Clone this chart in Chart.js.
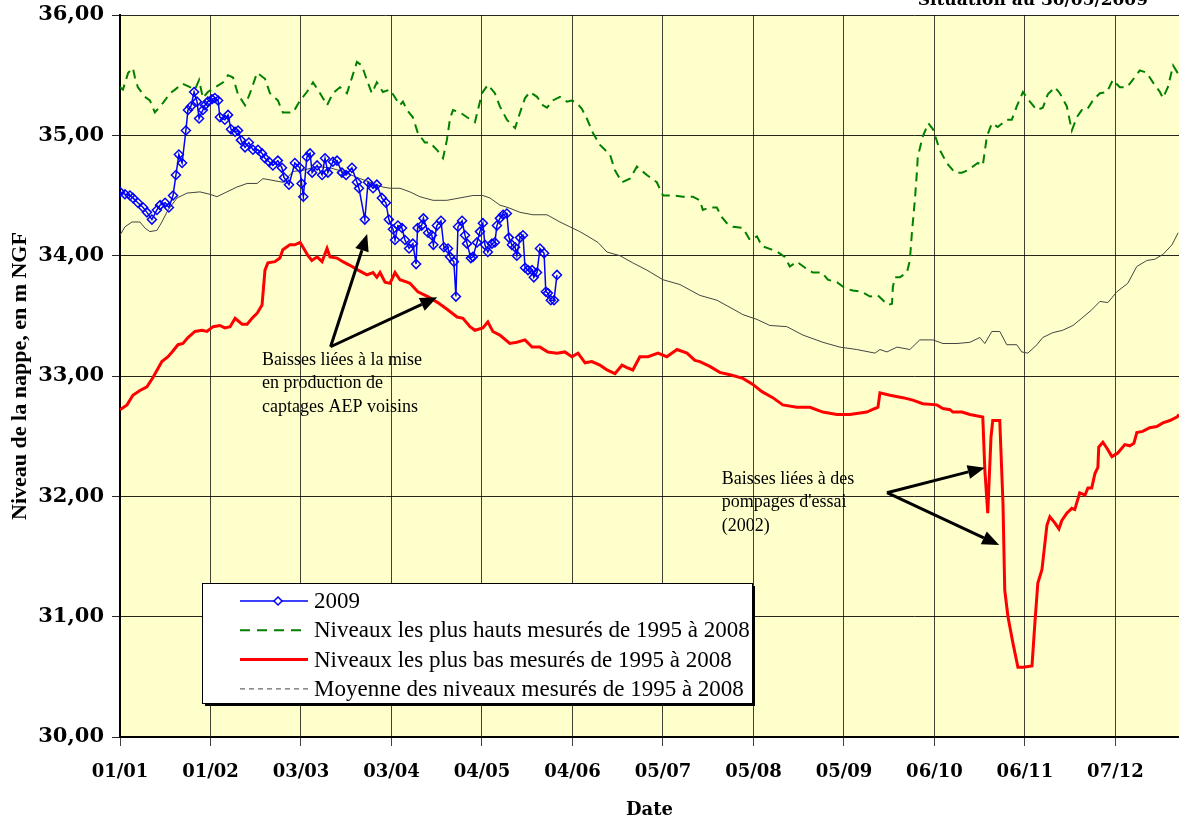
<!DOCTYPE html>
<html lang="fr">
<head>
<meta charset="utf-8">
<title>Niveau de la nappe</title>
<script src="https://cdn.jsdelivr.net/npm/chart.js@4.4.1/dist/chart.umd.min.js"></script>
<style>
  html, body { margin: 0; padding: 0; background: #fff; }
  canvas { display: block; }
</style>
</head>
<body>
<canvas id="nappechart" width="1179" height="821"></canvas>
<script>
  // NIVEAU DE LA NAPPE - SITUATION AU 30/05/2009
  // Setup Block
  const tickLabels = ['01/01', '01/02', '03/03', '03/04', '04/05', '04/06', '05/07', '05/08', '05/09', '06/10', '06/11', '07/12'];
  const tickStep = 30.9;   // jours entre deux graduations
  const dayMax = 361.6;

  // 2009 (jour de l'annee, niveau en m NGF)
  const days_2009 = [0, 1.7, 3.4, 4.4, 6.1, 7.9, 9.2, 10.9, 12.6, 13.7, 15.4, 16.7, 18.1, 19.1, 20.1, 21.2, 22.5, 23.2, 24.2, 25.3,
    26.3, 27.0, 28.3, 29.0, 30.0, 31.4, 32.4, 33.5, 34.1, 35.8, 36.9, 37.9, 39.3, 40.3, 41.3, 42.7, 44.0, 45.4, 47.1, 48.5,
    49.5, 50.9, 52.2, 53.9, 55.3, 56.0, 57.7, 59.7, 61.4, 62.0, 62.6, 63.8, 64.9, 65.6, 67.3, 69.0, 70.0, 71.0, 72.7, 74.1,
    75.8, 77.2, 79.2, 80.9, 81.6, 83.6, 84.7, 86.4, 87.7, 89.4, 90.8, 91.8, 93.2, 93.9, 94.9, 96.3, 97.3, 98.7, 100.0, 101.1,
    101.6, 103.0, 103.6, 105.2, 106.5, 107.0, 108.2, 109.6, 110.6, 112.0, 112.7, 114.0, 114.7, 115.4, 116.8, 117.8, 118.5, 119.8, 120.5, 121.9,
    122.9, 123.9, 124.6, 125.6, 127.0, 128.0, 128.7, 129.7, 130.8, 132.1, 132.8, 133.8, 134.9, 135.5, 136.6, 137.6, 138.3, 139.3, 140.7, 141.3,
    142.4, 143.4, 144.8, 145.4, 146.1, 147.1, 148.2, 149.2];
  const niveaux_2009 = [34.53, 34.51, 34.50, 34.48, 34.44, 34.40, 34.36, 34.30, 34.38, 34.42, 34.44, 34.40, 34.50, 34.67, 34.84, 34.77, 35.04, 35.21, 35.24, 35.36,
    35.28, 35.14, 35.21, 35.25, 35.28, 35.30, 35.31, 35.29, 35.15, 35.13, 35.17, 35.05, 35.03, 35.04, 34.96, 34.90, 34.94, 34.88, 34.88, 34.85,
    34.81, 34.78, 34.75, 34.79, 34.73, 34.65, 34.59, 34.77, 34.73, 34.60, 34.49, 34.82, 34.85, 34.69, 34.75, 34.67, 34.81, 34.69, 34.78, 34.79,
    34.69, 34.67, 34.73, 34.61, 34.56, 34.30, 34.61, 34.56, 34.59, 34.48, 34.44, 34.30, 34.22, 34.13, 34.25, 34.23, 34.13, 34.06, 34.10, 33.93,
    34.23, 34.25, 34.31, 34.19, 34.17, 34.09, 34.25, 34.29, 34.07, 34.06, 33.99, 33.95, 33.66, 34.24, 34.29, 34.17, 34.10, 33.98, 33.99, 34.11,
    34.20, 34.27, 34.09, 34.03, 34.10, 34.11, 34.25, 34.31, 34.34, 34.35, 34.15, 34.09, 34.07, 34.00, 34.15, 34.17, 33.90, 33.88, 33.88, 33.82,
    33.86, 34.06, 34.02, 33.70, 33.69, 33.63, 33.63, 33.84];

  // Niveaux les plus hauts 1995-2008
  const days_hauts = [0, 1.0, 2.8, 4.4, 5.1, 6.1, 8.5, 10.2, 11.9, 14.7, 17.1, 18.8, 21.2, 23.9, 25.6, 27.0, 28.3, 30.0, 35.2, 36.9,
    38.6, 40.3, 42.7, 44.4, 46.8, 49.5, 51.2, 53.9, 55.6, 59.1, 61.5, 63.8, 65.9, 68.3, 70.7, 72.7, 75.1, 77.5, 79.2, 80.9,
    82.6, 84.3, 86.0, 87.7, 89.8, 92.2, 95.6, 96.6, 98.0, 100.0, 101.7, 104.1, 105.8, 108.2, 110.3, 111.6, 112.7, 113.7, 116.1, 118.5,
    121.2, 122.2, 123.6, 125.6, 128.0, 129.7, 132.1, 134.9, 136.6, 138.3, 140.0, 142.4, 144.4, 145.8, 147.8, 150.2, 152.6, 154.3, 156.0, 157.7,
    159.4, 161.5, 163.9, 167.3, 169.0, 171.4, 174.1, 176.5, 179.9, 183.3, 185.4, 188.8, 192.2, 195.6, 198.0, 199.0, 201.4, 203.8, 205.5, 207.2,
    209.3, 212.7, 215.1, 217.5, 219.2, 222.6, 224.6, 227.0, 228.7, 231.1, 233.9, 236.6, 239.7, 241.7, 244.8, 247.5, 250.2, 253.3, 256.1, 258.8,
    260.5, 262.2, 263.6, 263.9, 264.6, 266.3, 268.7, 269.7, 270.4, 271.4, 272.1, 272.4, 274.1, 276.0, 277.6, 279.9, 282.3, 285.1, 287.5, 289.5,
    292.9, 294.6, 296.0, 297.7, 299.7, 302.8, 304.5, 306.2, 308.3, 310.7, 313.1, 315.1, 316.8, 319.2, 320.9, 323.3, 325.0, 326.7, 328.4, 330.1,
    332.2, 334.6, 337.0, 339.0, 341.4, 343.8, 345.8, 348.2, 350.6, 352.7, 355.1, 356.1, 357.8, 359.6, 361.6];
  const niveaux_hauts = [35.40, 35.38, 35.52, 35.56, 35.48, 35.40, 35.32, 35.29, 35.19, 35.27, 35.35, 35.38, 35.43, 35.40, 35.38, 35.46, 35.31, 35.36, 35.44, 35.50,
    35.48, 35.34, 35.25, 35.35, 35.52, 35.47, 35.35, 35.29, 35.19, 35.19, 35.29, 35.36, 35.44, 35.35, 35.25, 35.35, 35.40, 35.35, 35.48, 35.61,
    35.58, 35.46, 35.35, 35.44, 35.36, 35.38, 35.25, 35.28, 35.21, 35.15, 35.02, 34.94, 34.94, 34.88, 34.81, 34.96, 35.14, 35.21, 35.19, 35.15,
    35.11, 35.21, 35.35, 35.42, 35.35, 35.24, 35.13, 35.06, 35.19, 35.31, 35.36, 35.32, 35.25, 35.23, 35.29, 35.32, 35.28, 35.29, 35.27, 35.22,
    35.14, 35.02, 34.92, 34.84, 34.71, 34.61, 34.64, 34.74, 34.67, 34.61, 34.50, 34.50, 34.49, 34.49, 34.46, 34.38, 34.40, 34.40, 34.32, 34.27,
    34.24, 34.23, 34.13, 34.16, 34.08, 34.05, 34.03, 33.99, 33.91, 33.95, 33.90, 33.86, 33.86, 33.80, 33.78, 33.73, 33.71, 33.70, 33.66, 33.67,
    33.63, 33.59, 33.60, 33.74, 33.82, 33.82, 33.86, 33.96, 34.19, 34.46, 34.69, 34.82, 34.99, 35.10, 35.05, 34.88, 34.77, 34.69, 34.69, 34.71,
    34.77, 34.75, 34.99, 35.10, 35.07, 35.13, 35.13, 35.24, 35.36, 35.28, 35.21, 35.23, 35.34, 35.40, 35.35, 35.24, 35.04, 35.15, 35.21, 35.21,
    35.29, 35.35, 35.36, 35.46, 35.40, 35.40, 35.46, 35.54, 35.52, 35.44, 35.36, 35.31, 35.40, 35.58, 35.50];

  // Niveaux les plus bas 1995-2008
  const days_bas = [0, 2.4, 4.4, 6.8, 9.2, 11.3, 14.3, 16.4, 17.8, 19.8, 21.5, 23.2, 25.6, 28.0, 29.7, 31.8, 34.1, 35.8, 37.6, 39.3,
    41.7, 43.4, 45.1, 46.8, 48.5, 49.5, 50.5, 52.9, 54.6, 55.6, 58.0, 59.7, 61.5, 62.5, 64.2, 65.5, 67.3, 69.0, 70.7, 71.7,
    74.1, 76.1, 78.5, 81.3, 84.3, 86.4, 87.7, 88.8, 90.5, 92.2, 93.9, 95.6, 98.0, 99.0, 101.7, 105.1, 108.5, 111.9, 115.1, 117.1,
    119.5, 121.2, 123.9, 125.6, 127.3, 129.7, 133.1, 135.5, 138.3, 140.7, 143.4, 146.1, 149.2, 151.9, 154.3, 156.4, 158.8, 161.1, 163.9, 166.3,
    169.0, 171.4, 173.1, 175.1, 177.5, 180.3, 183.7, 186.7, 190.2, 193.6, 196.3, 198.0, 201.4, 204.8, 208.3, 212.7, 216.1, 219.2, 222.9, 226.3,
    231.1, 235.6, 240.0, 244.8, 249.2, 255.0, 257.8, 258.8, 259.5, 262.9, 267.3, 270.7, 274.1, 278.9, 281.0, 283.4, 284.4, 287.5, 290.2, 294.6,
    295.3, 296.3, 297.4, 298.0, 300.4, 301.5, 302.1, 303.2, 304.9, 306.6, 308.3, 311.4, 312.4, 313.4, 314.8, 316.5, 317.5, 319.2, 320.6, 321.6,
    323.3, 325.0, 326.0, 327.7, 329.5, 330.5, 331.8, 332.9, 333.9, 334.2, 335.6, 337.0, 338.7, 340.7, 343.1, 344.8, 346.2, 347.2, 349.2, 351.6,
    354.0, 356.1, 358.5, 361.0, 361.6];
  const niveaux_bas = [32.72, 32.76, 32.84, 32.88, 32.91, 32.99, 33.12, 33.16, 33.20, 33.26, 33.27, 33.32, 33.37, 33.38, 33.37, 33.41, 33.42, 33.40, 33.41, 33.48,
    33.43, 33.43, 33.48, 33.52, 33.59, 33.88, 33.94, 33.95, 33.98, 34.05, 34.09, 34.09, 34.11, 34.07, 34.00, 33.96, 33.99, 33.95, 34.06, 33.99,
    33.98, 33.95, 33.92, 33.88, 33.84, 33.86, 33.82, 33.86, 33.78, 33.77, 33.86, 33.80, 33.78, 33.77, 33.70, 33.66, 33.61, 33.55, 33.49, 33.48,
    33.41, 33.38, 33.40, 33.45, 33.37, 33.34, 33.27, 33.28, 33.30, 33.24, 33.24, 33.20, 33.19, 33.20, 33.16, 33.19, 33.11, 33.12, 33.09, 33.05,
    33.02, 33.09, 33.07, 33.05, 33.16, 33.16, 33.19, 33.16, 33.22, 33.19, 33.13, 33.12, 33.08, 33.03, 33.01, 32.98, 32.93, 32.87, 32.82, 32.76,
    32.74, 32.74, 32.70, 32.68, 32.68, 32.70, 32.73, 32.74, 32.86, 32.84, 32.82, 32.80, 32.77, 32.76, 32.73, 32.72, 32.70, 32.70, 32.68, 32.66,
    32.22, 31.86, 32.49, 32.63, 32.63, 31.94, 31.22, 31.00, 30.78, 30.58, 30.58, 30.59, 30.95, 31.28, 31.39, 31.76, 31.83, 31.78, 31.73, 31.80,
    31.86, 31.90, 31.89, 32.03, 32.01, 32.07, 32.07, 32.19, 32.24, 32.41, 32.45, 32.40, 32.33, 32.36, 32.43, 32.42, 32.44, 32.53, 32.54, 32.57,
    32.58, 32.61, 32.63, 32.66, 32.68];

  // Moyenne des niveaux 1995-2008
  const days_moy = [0, 1.7, 4.1, 6.8, 8.5, 10.2, 12.6, 14.3, 16.4, 19.5, 22.9, 27.3, 30.7, 33.1, 36.5, 39.9, 43.4, 46.8, 48.8, 51.2,
    55.6, 59.1, 62.5, 67.3, 71.7, 76.1, 80.9, 85.4, 89.8, 92.2, 95.6, 99.0, 102.4, 106.9, 111.6, 116.1, 120.5, 123.9, 126.3, 129.7,
    132.5, 136.6, 141.0, 145.8, 150.2, 153.6, 157.0, 160.5, 163.2, 166.3, 170.7, 175.1, 179.9, 185.4, 191.2, 198.0, 203.8, 208.3, 212.7, 217.5,
    221.9, 227.7, 233.2, 240.0, 245.8, 251.6, 257.8, 259.5, 261.9, 265.3, 269.7, 273.1, 277.6, 281.0, 285.8, 290.2, 293.6, 295.3, 297.7, 300.4,
    302.8, 306.2, 307.9, 310.0, 313.1, 315.1, 318.5, 321.9, 325.4, 328.4, 331.8, 334.6, 337.3, 340.4, 344.1, 347.2, 350.6, 353.3, 356.1, 359.2,
    361.3];
  const niveaux_moy = [34.17, 34.24, 34.28, 34.28, 34.23, 34.20, 34.21, 34.28, 34.38, 34.48, 34.52, 34.53, 34.51, 34.49, 34.53, 34.57, 34.60, 34.60, 34.64, 34.63,
    34.61, 34.70, 34.71, 34.74, 34.73, 34.70, 34.65, 34.61, 34.57, 34.56, 34.56, 34.53, 34.49, 34.46, 34.46, 34.48, 34.50, 34.50, 34.48, 34.42,
    34.40, 34.36, 34.34, 34.34, 34.28, 34.24, 34.20, 34.15, 34.11, 34.03, 34.00, 33.94, 33.88, 33.80, 33.76, 33.67, 33.63, 33.57, 33.51, 33.47,
    33.42, 33.41, 33.34, 33.28, 33.24, 33.22, 33.19, 33.22, 33.20, 33.24, 33.22, 33.30, 33.30, 33.27, 33.27, 33.28, 33.32, 33.27, 33.37, 33.37,
    33.26, 33.26, 33.20, 33.19, 33.26, 33.32, 33.36, 33.38, 33.42, 33.48, 33.55, 33.62, 33.61, 33.70, 33.77, 33.91, 33.96, 33.97, 34.01, 34.09,
    34.19];

  // Annotations (jour, niveau)
  const note_aep = ['Baisses liées à la mise', 'en production de', 'captages AEP voisins'];
  const note_aep_at = [48.5, 33.133];
  const arrows_aep = [[[71.9, 33.243], [84.4, 34.18]], [[71.9, 33.243], [108.3, 33.654]]];
  const note_essai = ['Baisses liées à des', "pompages d'essai", '(2002)'];
  const note_essai_at = [205.5, 32.144];
  const arrows_essai = [[[261.9, 32.03], [295.3, 32.238]], [[261.9, 32.03], [300.2, 31.595]]];

  const toPoints = (xs, ys) => xs.map((x, i) => ({x: x, y: ys[i]}));

  const data_nappe = {
    datasets: [{
      label: '2009',
      data: toPoints(days_2009, niveaux_2009),
      borderColor: '#0000ff',
      borderWidth: 1.5,
      pointStyle: 'rectRot',
      pointRadius: 4.5,
      pointBorderColor: '#0000ff',
      pointBackgroundColor: 'rgba(0,0,0,0)',
      pointBorderWidth: 1.5
    }, {
      label: 'Niveaux les plus hauts mesurés de 1995 à 2008',
      data: toPoints(days_hauts, niveaux_hauts),
      borderColor: '#008000',
      borderWidth: 2,
      borderDash: [9, 6],
      pointRadius: 0
    }, {
      label: 'Niveaux les plus bas mesurés de 1995 à 2008',
      data: toPoints(days_bas, niveaux_bas),
      borderColor: '#ff0000',
      borderWidth: 3,
      pointRadius: 0
    }, {
      label: 'Moyenne des niveaux mesurés de 1995 à 2008',
      data: toPoints(days_moy, niveaux_moy),
      borderColor: '#444444',
      borderWidth: 1,
      pointRadius: 0
    }]
  };

  // fond jaune de la zone de trace
  const plotBackground = {
    id: 'plotBackground',
    beforeDraw(chart) {
      const {ctx, chartArea: a} = chart;
      ctx.save();
      ctx.fillStyle = '#ffffcc';
      ctx.fillRect(a.left, a.top, a.right - a.left, a.bottom - a.top);
      ctx.restore();
    }
  };

  function drawArrow(ctx, from, to) {
    const ang = Math.atan2(to[1] - from[1], to[0] - from[0]);
    const head = 17, half = 7;
    const bx = to[0] - head * Math.cos(ang), by = to[1] - head * Math.sin(ang);
    ctx.beginPath();
    ctx.moveTo(from[0], from[1]);
    ctx.lineTo(bx, by);
    ctx.stroke();
    ctx.beginPath();
    ctx.moveTo(to[0], to[1]);
    ctx.lineTo(bx + half * Math.sin(ang), by - half * Math.cos(ang));
    ctx.lineTo(bx - half * Math.sin(ang), by + half * Math.cos(ang));
    ctx.closePath();
    ctx.fill();
  }

  // fleches, textes, legende et titre
  const decorations = {
    id: 'decorations',
    afterDraw(chart) {
      const {ctx, chartArea: a, scales: {x, y}} = chart;
      const px = p => [x.getPixelForValue(p[0]), y.getPixelForValue(p[1])];
      ctx.save();
      ctx.strokeStyle = '#000';
      ctx.fillStyle = '#000';
      ctx.lineWidth = 3;
      arrows_aep.concat(arrows_essai).forEach(ar => drawArrow(ctx, px(ar[0]), px(ar[1])));

      ctx.font = '18px "Liberation Serif", "Times New Roman", serif';
      ctx.textAlign = 'left';
      ctx.textBaseline = 'middle';
      let p = px(note_aep_at);
      note_aep.forEach((t, i) => ctx.fillText(t, p[0], p[1] + i * 23.5));
      p = px(note_essai_at);
      note_essai.forEach((t, i) => ctx.fillText(t, p[0], p[1] + i * 23.5));

      // legende
      const lx = a.left + 82, ly = a.top + 568, lw = 550, lh = 120;
      ctx.fillStyle = '#000';
      ctx.fillRect(lx + 3, ly + 3, lw, lh);
      ctx.fillStyle = '#fff';
      ctx.fillRect(lx, ly, lw, lh);
      ctx.lineWidth = 1;
      ctx.strokeStyle = '#000';
      ctx.strokeRect(lx + 0.5, ly + 0.5, lw, lh);
      ctx.font = '23px "Liberation Serif", "Times New Roman", serif';
      chart.data.datasets.forEach((ds, i) => {
        const ry = ly + 18 + i * 29.3;
        const x0 = lx + 38, x1 = lx + 106;
        ctx.save();
        ctx.strokeStyle = ds.borderColor;
        ctx.lineWidth = ds.borderWidth;
        if (i === 1) ctx.setLineDash([10, 7]);
        if (i === 3) ctx.setLineDash([5, 4]);
        ctx.beginPath();
        ctx.moveTo(x0, ry);
        ctx.lineTo(x1, ry);
        ctx.stroke();
        if (i === 0) {
          const cx = (x0 + x1) / 2 + 4;
          ctx.fillStyle = '#fff';
          ctx.beginPath();
          ctx.moveTo(cx, ry - 4); ctx.lineTo(cx + 4, ry); ctx.lineTo(cx, ry + 4); ctx.lineTo(cx - 4, ry);
          ctx.closePath();
          ctx.fill();
          ctx.stroke();
        }
        ctx.restore();
        ctx.fillStyle = '#000';
        ctx.fillText(ds.label, lx + 112, ry + 1);
      });

      // titre coupe en haut
      ctx.font = 'bold 17px "DejaVu Serif", serif';
      ctx.textAlign = 'right';
      ctx.textBaseline = 'alphabetic';
      ctx.fillText('Situation au 30/05/2009', 1148, 5);
      ctx.restore();
    }
  };

  // Config Block
  const config_nappe = {
    type: 'line',
    data: data_nappe,
    plugins: [plotBackground, decorations],
    options: {
      responsive: false,
      animation: false,
      layout: { autoPadding: false, padding: { top: 15, right: 0, bottom: 0, left: 0 } },
      plugins: {
        legend: { display: false },
        tooltip: { enabled: false }
      },
      scales: {
        x: {
          type: 'linear',
          min: 0,
          max: dayMax,
          afterBuildTicks: axis => { axis.ticks = tickLabels.map((l, i) => ({ value: i * tickStep })); },
          afterFit: axis => { axis.height = 84; axis.paddingLeft = 0; axis.paddingRight = 0; },
          ticks: {
            callback: (v, i) => tickLabels[i],
            color: '#000',
            padding: 16,
            maxRotation: 0,
            autoSkip: false,
            font: { family: '"DejaVu Serif", serif', weight: 'bold', size: 18 }
          },
          grid: { color: 'rgba(0,0,0,0.75)', lineWidth: 1, tickLength: 9 },
          border: { color: '#000', width: 2 },
          title: {
            display: true,
            text: 'Date',
            color: '#000',
            padding: { top: 0, bottom: 0 },
            font: { family: '"DejaVu Serif", serif', weight: 'bold', size: 18 }
          }
        },
        y: {
          min: 30,
          max: 36,
          afterFit: axis => { axis.width = 120; axis.paddingTop = 0; axis.paddingBottom = 0; },
          ticks: {
            stepSize: 1,
            callback: v => v.toFixed(2).replace('.', ','),
            color: '#000',
            padding: 8,
            font: { family: '"DejaVu Serif", serif', weight: 'bold', size: 21 }
          },
          grid: { color: 'rgba(0,0,0,0.85)', lineWidth: 1, tickLength: 8 },
          border: { color: '#000', width: 2 },
          title: {
            display: true,
            text: 'Niveau de la nappe, en m NGF',
            color: '#000',
            padding: { top: 7, bottom: 0 },
            font: { family: '"Liberation Serif", "Times New Roman", serif', weight: 'bold', size: 22 }
          }
        }
      }
    }
  };

  // Render Block
  const nappechart = new Chart(
    document.getElementById('nappechart'),
    config_nappe
  );
</script>
</body>
</html>
